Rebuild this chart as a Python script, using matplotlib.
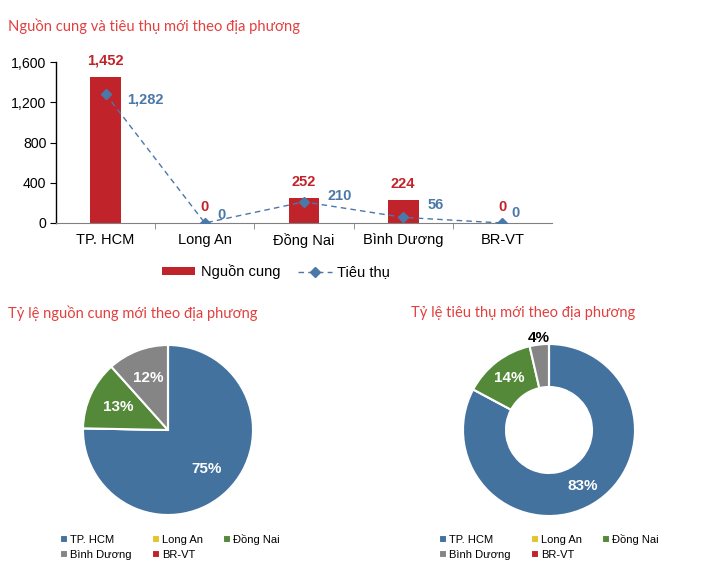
import matplotlib as mpl
import matplotlib.pyplot as plt
import numpy as np

mpl.rcParams["font.family"] = ["Liberation Sans", "DejaVu Sans"]

# data
regions = ["TP. HCM", "Long An", "Đồng Nai", "Bình Dương", "BR-VT"]
supply = [1452, 0, 252, 224, 0]
consumption = [1282, 0, 210, 56, 0]
yticks = [0, 400, 800, 1200, 1600]

title_bar = "Nguồn cung và tiêu thụ mới theo địa phương"
title_pie = "Tỷ lệ nguồn cung mới theo địa phương"
title_donut = "Tỷ lệ tiêu thụ mới theo địa phương"

# styles
RED = "#c1232b"
BLUE = "#4a78a8"
TITLE_RED = "#e2403f"
pie_colors = ["#44729f", "#e6c32b", "#55893a", "#858585", "#c1232b"]
# label offsets (pixels) for consumption values, left edge of text
blue_offsets = [(22, -6), (13, 8), (23, 6), (24, 12), (9, 10)]

W, H = 702, 566
fig = plt.figure(figsize=(W / 100, H / 100), dpi=100)


def px_axes(x0, y0, x1, y1):
    # pixel box (top-left origin) -> axes
    return fig.add_axes([x0 / W, 1 - y1 / H, (x1 - x0) / W, (y1 - y0) / H])


# ---- bar + line chart ----
ax = px_axes(56, 62, 552, 223)
x = np.arange(len(regions))
bars = ax.bar(x, supply, width=0.31, color=RED, label="Nguồn cung", zorder=2)
line, = ax.plot(x, consumption, linestyle=(0, (4, 3)), linewidth=1, color=BLUE,
                marker="D", markersize=5.5, label="Tiêu thụ", zorder=3)
ax.set_xlim(-0.5, len(regions) - 0.5)
ax.set_ylim(0, 1600)
ax.set_yticks(yticks)
ax.set_yticklabels([f"{v:,}" for v in yticks], fontsize=10.2)
ax.set_xticks(x)
ax.set_xticklabels(regions, fontsize=10.5)
ax.set_xticks(np.arange(0.5, len(regions) - 0.5, 1), minor=True)
ax.tick_params(axis="x", which="major", length=0, pad=7)
ax.tick_params(axis="x", which="minor", length=4, color="#808080", direction="out")
ax.tick_params(axis="y", length=4, pad=3)
for s in ["top", "right"]:
    ax.spines[s].set_visible(False)
ax.spines["bottom"].set_color("#808080")
ax.spines["left"].set_linewidth(1)

for i, v in enumerate(supply):
    ax.annotate(f"{v:,}", (x[i], v), xytext=(0, 16), textcoords="offset pixels",
                ha="center", va="center", color=RED, fontsize=10.5, fontweight="bold")
for i, v in enumerate(consumption):
    dx, dy = blue_offsets[i]
    ax.annotate(f"{v:,}", (x[i], v), xytext=(dx, dy), textcoords="offset pixels",
                ha="left", va="center", color=BLUE, fontsize=10.5, fontweight="bold")

ax.legend([bars, line], ["Nguồn cung", "Tiêu thụ"], loc="center",
          bbox_to_anchor=(276 / W, 1 - 272 / H), bbox_transform=fig.transFigure,
          ncol=2, frameon=False, fontsize=10.5, handlelength=2.3, handleheight=0.5,
          columnspacing=1.2, handletextpad=0.4)

fig.text(8 / W, 1 - 26 / H, title_bar, color=TITLE_RED, fontsize=10.6,
         family=["Lato", "DejaVu Sans"], va="center", ha="left")


# ---- pies ----
def draw_pie(cx, cy, r, values, donut):
    half = 1.06 * r
    pa = px_axes(cx - half, cy - half, cx + half, cy + half)
    kw = dict(width=0.5) if donut else {}
    wedges, _, autotexts = pa.pie(
        values, colors=pie_colors, startangle=90, counterclock=False,
        autopct=lambda p: f"{p:.0f}%" if p >= 1 else "",
        pctdistance=0.76 if donut else 0.65,
        wedgeprops=dict(edgecolor="white", linewidth=1.5, **kw),
        textprops=dict(color="white", fontsize=11, fontweight="bold"))
    pa.set_xlim(-1.06, 1.06)
    pa.set_ylim(-1.06, 1.06)
    pa.set_aspect("equal")
    pa.axis("off")
    if donut:
        # small slice label sits outside the ring
        for t, v in zip(autotexts, values):
            if 0 < v / sum(values) < 0.05:
                px_, py_ = t.get_position()
                k = 1.08 / 0.76
                t.set_position((px_ * k, py_ * k))
                t.set_color("black")
    return wedges


wedges = draw_pie(168, 430, 85, supply, False)
draw_pie(549, 430, 86, consumption, True)

order = [0, 3, 1, 4, 2]
for cx in (170, 549):
    fig.legend([wedges[i] for i in order], [regions[i] for i in order],
               loc="center", bbox_to_anchor=(cx / W, 1 - 547 / H), ncol=3,
               frameon=False, fontsize=8, handlelength=0.7, handleheight=0.7,
               handletextpad=0.2, columnspacing=1.8, labelspacing=0.5)

fig.text(8 / W, 1 - 313 / H, title_pie, color=TITLE_RED, fontsize=10.5,
         family=["Lato", "DejaVu Sans"], va="center", ha="left")
fig.text(411 / W, 1 - 313 / H, title_donut, color=TITLE_RED, fontsize=10.5,
         family=["Lato", "DejaVu Sans"], va="center", ha="left")

fig.savefig("out.png", dpi=100)
